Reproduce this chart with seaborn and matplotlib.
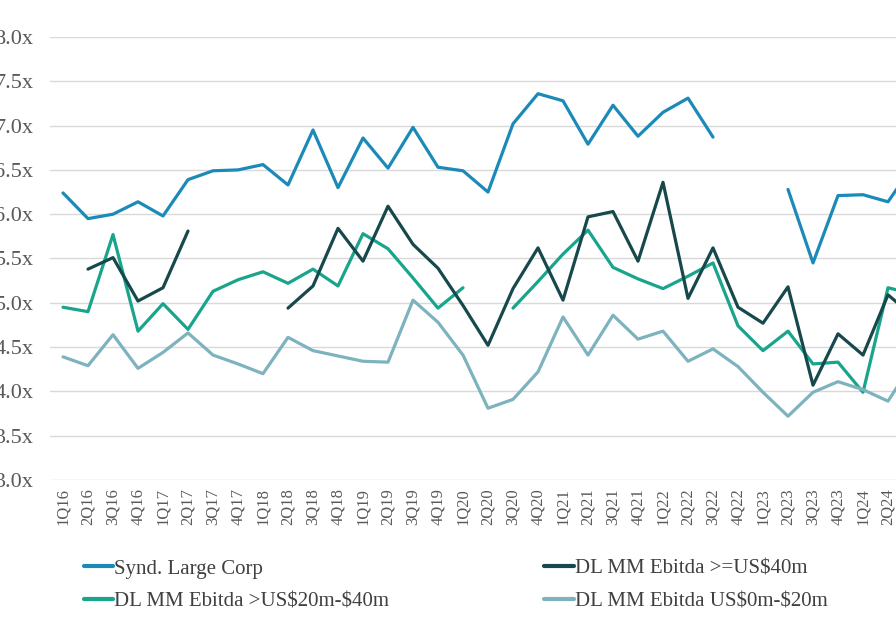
import numpy as np
import pandas as pd
import seaborn as sns
import matplotlib.pyplot as plt

nan = np.nan

quarters = ["1Q16", "2Q16", "3Q16", "4Q16", "1Q17", "2Q17", "3Q17", "4Q17",
            "1Q18", "2Q18", "3Q18", "4Q18", "1Q19", "2Q19", "3Q19", "4Q19",
            "1Q20", "2Q20", "3Q20", "4Q20", "1Q21", "2Q21", "3Q21", "4Q21",
            "1Q22", "2Q22", "3Q22", "4Q22", "1Q23", "2Q23", "3Q23", "4Q23",
            "1Q24", "2Q24", "3Q24"]

synd = [6.24, 5.95, 6.00, 6.14, 5.98, 6.39, 6.49, 6.50, 6.56, 6.33, 6.95, 6.30,
        6.86, 6.52, 6.98, 6.53, 6.49, 6.25, 7.02, 7.36, 7.28, 6.79, 7.23, 6.88,
        7.15, 7.31, 6.87, nan, nan, 6.28, 5.45, 6.21, 6.22, 6.14, 6.55]
dl_40 = [nan, 5.38, 5.51, 5.02, 5.17, 5.81, nan, nan, nan, 4.94, 5.19, 5.84,
         5.47, 6.09, 5.66, 5.39, 4.97, 4.52, 5.16, 5.62, 5.03, 5.97, 6.03, 5.47,
         6.36, 5.05, 5.62, 4.95, 4.77, 5.18, 4.07, 4.65, 4.41, 5.09, 4.85]
dl_20_40 = [4.95, 4.90, 5.77, 4.68, 4.99, 4.70, 5.13, 5.26, 5.35, 5.22, 5.38, 5.19,
            5.78, 5.61, 5.28, 4.94, 5.17, nan, 4.94, 5.24, 5.55, 5.82, 5.40, 5.27,
            5.16, 5.30, 5.45, 4.74, 4.46, 4.68, 4.31, 4.33, 3.99, 5.17, 5.10]
dl_0_20 = [4.39, 4.29, 4.64, 4.26, 4.44, 4.66, 4.41, 4.31, 4.20, 4.61, 4.46, 4.40,
           4.34, 4.33, 5.03, 4.78, 4.41, 3.81, 3.91, 4.22, 4.84, 4.41, 4.86, 4.59,
           4.68, 4.34, 4.48, 4.28, 3.99, 3.72, 3.99, 4.11, 4.02, 3.89, 4.33]

series = {
    "Synd. Large Corp": synd,
    "DL MM Ebitda >US\\$20m-\\$40m": dl_20_40,
    "DL MM Ebitda >=US\\$40m": dl_40,
    "DL MM Ebitda US\\$0m-\\$20m": dl_0_20,
}
colors = {
    "Synd. Large Corp": "#1c8ab8",
    "DL MM Ebitda >US\\$20m-\\$40m": "#19a48c",
    "DL MM Ebitda >=US\\$40m": "#17494c",
    "DL MM Ebitda US\\$0m-\\$20m": "#7db2bf",
}

# long format, with a segment id so gaps stay gaps
rows = []
for name, vals in series.items():
    seg = 0
    for i, v in enumerate(vals):
        if np.isnan(v):
            seg += 1
            continue
        rows.append({"q": i, "val": v, "series": name, "seg": f"{name}_{seg}"})
df = pd.DataFrame(rows)

sns.set_style("white")
plt.rcParams["font.family"] = ["Liberation Serif", "DejaVu Serif"]

fig = plt.figure(figsize=(8.96, 6.27), dpi=100)
ax = fig.add_axes([50 / 896, 1 - 480 / 627, 1 - 50 / 896, (480 - 37) / 627])

sns.lineplot(data=df, x="q", y="val", hue="series", units="seg", estimator=None,
             palette=colors, hue_order=list(series.keys()), linewidth=2.3,
             ax=ax, legend=True)

ax.set_yticks(np.arange(3.0, 8.01, 0.5))
ax.set_yticklabels([f"{v:.1f}x" for v in np.arange(3.0, 8.01, 0.5)],
                   fontsize=16, color="#595959")
ax.set_xticks(range(len(quarters)))
ax.set_xticklabels(quarters, rotation=90, fontsize=12, color="#595959")
ax.set_xlim(-0.52, 33.32)
ax.set_ylim(3.0, 8.0)
ax.tick_params(axis="y", length=0, pad=12)
ax.tick_params(axis="x", length=0, pad=6)
ax.grid(axis="y", color="#d9d9d9", linewidth=1)
ax.set_axisbelow(True)
for s in ax.spines.values():
    s.set_visible(False)
ax.set_xlabel("")
ax.set_ylabel("")

handles, labels = ax.get_legend_handles_labels()
ax.get_legend().remove()
leg = fig.legend(handles, labels, ncol=2, loc="upper left",
                 bbox_to_anchor=(84 / 896, 1 - 559 / 627), frameon=False,
                 fontsize=15, handlelength=1.4, handletextpad=0.05,
                 columnspacing=7.45, labelspacing=0.65, borderpad=0,
                 borderaxespad=0)
for line in leg.get_lines():
    line.set_linewidth(3)
for t in leg.get_texts():
    t.set_color("#404040")

fig.savefig("out.png", dpi=100)
